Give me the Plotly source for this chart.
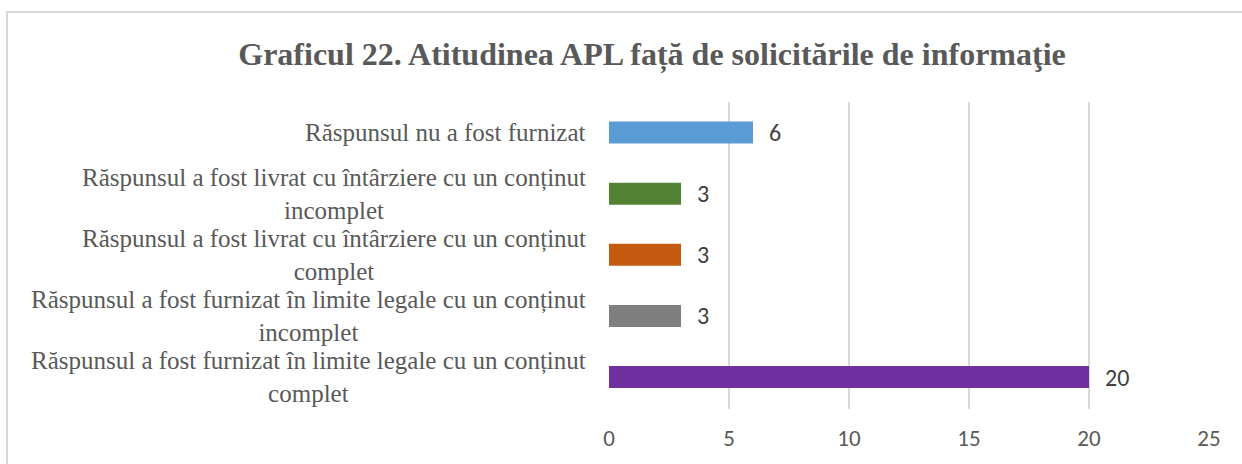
import plotly.graph_objects as go

categories = [
    "Răspunsul a fost furnizat în limite legale cu un conținut<br>complet",
    "Răspunsul a fost furnizat în limite legale cu un conținut<br>incomplet",
    "Răspunsul a fost livrat cu întârziere cu un conținut<br>complet",
    "Răspunsul a fost livrat cu întârziere cu un conținut<br>incomplet",
    "Răspunsul nu a fost furnizat",
]
values = [20, 3, 3, 3, 6]
colors = ["#7030A0", "#7F7F7F", "#C55A11", "#548235", "#5B9BD5"]
x_ticks = [0, 5, 10, 15, 20, 25]
title_text = "Graficul 22. Atitudinea APL față de solicitările de informaţie"

W, H = 1242, 464
L, R, T, B = 609, W - 1209, 102, H - 409
pw, ph = W - L - R, H - T - B

fig = go.Figure(go.Bar(
    y=categories, x=values, orientation="h",
    marker=dict(color=colors, line=dict(width=0)),
    cliponaxis=False, width=0.36, hoverinfo="skip",
))

def px_x(p):
    return (p - L) / pw

def px_y(p):
    return (H - B - p) / ph

fig.add_shape(type="rect", xref="paper", yref="paper",
              x0=px_x(7), x1=px_x(1260), y0=px_y(12), y1=px_y(490),
              line=dict(color="#D9D9D9", width=2), fillcolor="rgba(0,0,0,0)", layer="below")

for c, v in zip(categories, values):
    fig.add_annotation(x=px_x(588), xref="paper", y=c, yref="y", text=c,
                       showarrow=False, xanchor="right", yanchor="middle", align="center",
                       font=dict(family="Liberation Serif, serif", size=25, color="#595959"))
    fig.add_annotation(x=v, xref="x", y=c, yref="y", text=str(v), xshift=14,
                       showarrow=False, xanchor="left", yanchor="middle",
                       font=dict(family="Carlito, Liberation Sans, sans-serif", size=24, color="#404040"))

fig.update_layout(
    width=W, height=H,
    margin=dict(l=L, r=R, t=T, b=B, pad=0, autoexpand=False),
    paper_bgcolor="white", plot_bgcolor="white",
    title=dict(text="<b>" + title_text + "</b>", x=652 / W, xref="container", xanchor="center",
               y=1 - 54 / H, yref="container", yanchor="middle",
               font=dict(family="Liberation Serif, serif", size=32, color="#595959")),
    xaxis=dict(range=[0, 25], tickvals=x_ticks, showgrid=True, gridcolor="#D9D9D9", gridwidth=1.5,
               zeroline=False, showline=False, ticks="", ticklabelstandoff=13, automargin=False,
               tickfont=dict(family="Carlito, Liberation Sans, sans-serif", size=23, color="#595959")),
    yaxis=dict(showgrid=False, zeroline=False, showline=False, ticks="", showticklabels=False,
               automargin=False),
    showlegend=False,
)

fig.write_html("out.html", config={"displayModeBar": False},
               post_script="document.body.style.margin='0';")
